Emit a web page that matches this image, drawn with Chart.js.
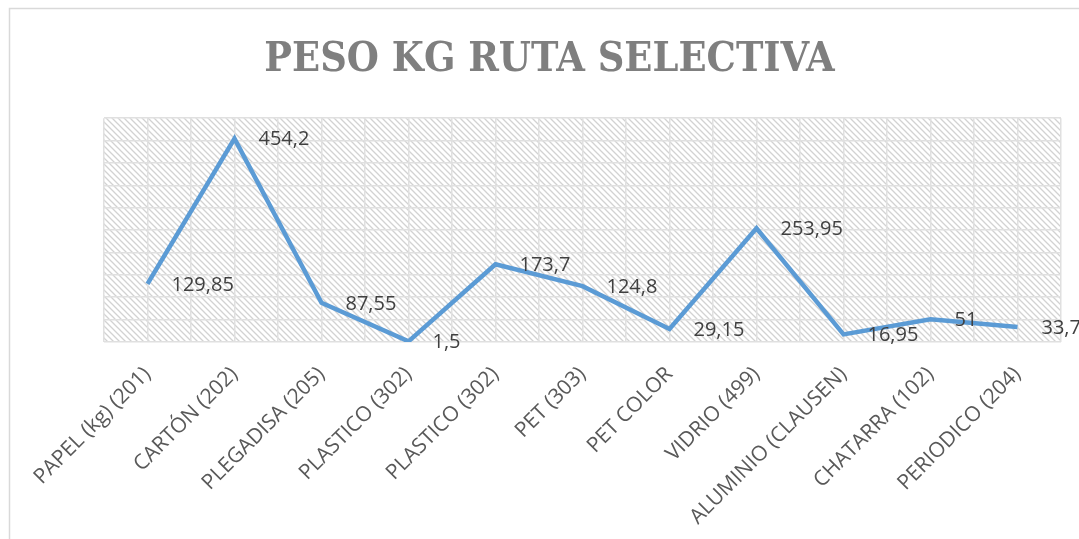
<!DOCTYPE html>
<html>
<head>
<meta charset="utf-8">
<script src="https://cdn.jsdelivr.net/npm/chart.js@4.4.1/dist/chart.umd.min.js"></script>
<style>
  html, body { margin: 0; padding: 0; background: #fff; }
  #wrap { width: 1079px; height: 539px; position: relative; }
</style>
</head>
<body>
<div id="wrap"><canvas id="myChart" width="1079" height="539"></canvas></div>
<script>
const categories = [
    'PAPEL (kg) (201)', 'CARTÓN (202)', 'PLEGADISA (205)', 'PLASTICO (302)',
    'PLASTICO (302)', 'PET (303)', 'PET COLOR', 'VIDRIO (499)',
    'ALUMINIO (CLAUSEN)', 'CHATARRA (102)', 'PERIODICO (204)'
];
const pesoKg = [129.85, 454.2, 87.55, 1.5, 173.7, 124.8, 29.15, 253.95, 16.95, 51, 33.75];
const yMin = 0;
const yMax = 500;
const yStep = 50;

// diagonal hatch used as plot background
function hatchPattern(ctx) {
    const n = 6;
    const c = document.createElement('canvas');
    c.width = n; c.height = n;
    const g = c.getContext('2d');
    g.fillStyle = '#fff';
    g.fillRect(0, 0, n, n);
    g.strokeStyle = '#d2d2d2';
    g.lineWidth = 1.3;
    g.beginPath();
    g.moveTo(-1, -1); g.lineTo(n + 1, n + 1);
    g.moveTo(-1, n - 1); g.lineTo(1, n + 1);
    g.moveTo(n - 1, -1); g.lineTo(n + 1, 1);
    g.stroke();
    return ctx.createPattern(c, 'repeat');
}

const backdrop = {
    id: 'backdrop',
    beforeDraw(chart) {
        const ctx = chart.ctx;
        const a = chart.chartArea;
        ctx.save();
        ctx.strokeStyle = '#d9d9d9';
        ctx.lineWidth = 1.5;
        ctx.strokeRect(9.5, 8.5, 1100, 600);
        ctx.fillStyle = hatchPattern(ctx);
        ctx.fillRect(a.left, a.top, a.right - a.left, a.bottom - a.top);
        ctx.restore();
    }
};

// value labels to the right of each point
const valueLabels = {
    id: 'valueLabels',
    afterDatasetsDraw(chart) {
        const ctx = chart.ctx;
        const meta = chart.getDatasetMeta(0);
        ctx.save();
        ctx.font = '20px "Open Sans", "Noto Sans", sans-serif';
        ctx.fillStyle = '#404040';
        ctx.textAlign = 'left';
        ctx.textBaseline = 'middle';
        meta.data.forEach((pt, i) => {
            const txt = String(pesoKg[i]).replace('.', ',');
            ctx.fillText(txt, pt.x + 24, pt.y + 1);
        });
        ctx.restore();
    }
};

const ctx = document.getElementById('myChart').getContext('2d');
new Chart(ctx, {
    type: 'line',
    data: {
        labels: categories,
        datasets: [{
            label: 'PESO KG',
            data: pesoKg,
            borderColor: '#5B9BD5',
            borderWidth: 4.5,
            pointRadius: 0,
            tension: 0,
            fill: false
        }]
    },
    options: {
        responsive: false,
        animation: false,
        layout: { padding: { left: 38, right: 18, top: 0, bottom: 0 } },
        plugins: {
            legend: { display: false },
            tooltip: { enabled: false },
            title: {
                display: true,
                text: 'PESO KG RUTA SELECTIVA',
                color: '#7f7f7f',
                font: { family: '"DejaVu Serif Condensed", "Liberation Serif", serif', size: 41, weight: 'bold', lineHeight: 1.2 },
                padding: { top: 36, bottom: 33 }
            }
        },
        scales: {
            x: {
                offset: true,
                grid: { display: false },
                border: { display: false },
                ticks: {
                    color: '#595959',
                    font: { family: '"Open Sans", "Noto Sans", sans-serif', size: 21 },
                    minRotation: 45,
                    maxRotation: 45,
                    autoSkip: false,
                    padding: 12
                },
                afterFit(s) { s.height = 197; }
            },
            xgrid: {
                type: 'linear',
                position: 'bottom',
                min: 0,
                max: categories.length * 2,
                ticks: { display: false, stepSize: 1 },
                grid: { color: '#e0e0e0', lineWidth: 1.5, drawTicks: false },
                border: { display: false },
                afterFit(s) { s.height = 0; }
            },
            y: {
                min: yMin,
                max: yMax,
                ticks: { display: false, stepSize: yStep },
                grid: { color: '#e0e0e0', lineWidth: 1.5, drawTicks: false },
                border: { display: false },
                afterFit(s) { s.width = 66; }
            }
        }
    },
    plugins: [backdrop, valueLabels]
});
</script>
</body>
</html>
